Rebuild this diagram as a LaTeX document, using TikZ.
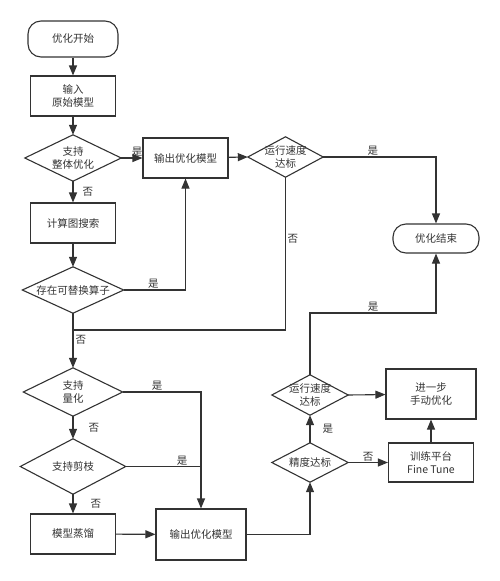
\documentclass[tikz,border=0pt]{standalone}
\usepackage{fontspec}
\setmainfont{Noto Sans CJK SC}
\usetikzlibrary{arrows.meta}
\definecolor{ink}{HTML}{333333}
\tikzset{
  box/.style={draw=ink, line width=1.1pt, rectangle, minimum width=85pt, minimum height=40pt, inner sep=0pt, align=center, text=ink},
  term/.style={box, rounded corners=13pt},
  cond/.style={rectangle, inner sep=0pt, align=center, text=ink},
  line/.style={draw=ink, line width=1.1pt},
  arrow/.style={line, -{Triangle[length=10pt,width=8pt]}},
  lbl/.style={inner sep=1pt, text=ink}
}
\begin{document}
\begin{tikzpicture}[x=1pt, y=-1pt, font=\fontsize{10.5}{13}\selectfont]
    \useasboundingbox (0,0) rectangle (500,581);
    \node[term, minimum width=90pt, minimum height=36pt] (start) at (73,39) {优化开始};
    \node[box] (input) at (73,96) {输入\\原始模型};
    \node[cond, minimum width=96pt, minimum height=46pt] (whole) at (73,158) {支持\\整体优化};
    \node[box] (out1) at (185.5,158) {输出优化模型};
    \node[box] (search) at (73,223) {计算图搜索};
    \node[cond, minimum width=101pt, minimum height=46pt] (replace) at (73,290) {存在可替换算子};
    \node[cond, minimum width=75pt, minimum height=40pt] (speed1) at (285.5,157) {运行速度\\达标};
    \node[term, minimum width=86pt, minimum height=29pt] (finish) at (436,238.5) {优化结束};
    \node[cond, minimum width=99pt, minimum height=48pt] (quant) at (73,392) {支持\\量化};
    \node[cond, minimum width=105pt, minimum height=55pt] (prune) at (73,466.5) {支持剪枝};
    \node[box] (distill) at (73,534) {模型蒸馏};
    \node[box, minimum width=90pt, minimum height=51pt] (out2) at (201,534.5) {输出优化模型};
    \node[cond, minimum width=76pt, minimum height=39pt] (acc) at (310,462.5) {精度达标};
    \node[cond, minimum width=76pt, minimum height=40pt] (speed2) at (310,395) {运行速度\\达标};
    \node[box, minimum width=90pt, minimum height=50pt] (manual) at (431,394) {进一步\\手动优化};
    \node[box, minimum height=39pt] (tune) at (431,462.5) {训练平台\\Fine Tune};
    \foreach \n in {whole,replace,speed1,quant,prune,acc,speed2}
      \draw[line, line join=miter] (\n.north) -- (\n.east) -- (\n.south) -- (\n.west) -- cycle;
    \coordinate (join) at (73,330);
    \draw[arrow] (start) -- (input);
    \draw[arrow] (input) -- (whole.north);
    \draw[arrow] (whole.east) -- node[lbl, above, pos=0.75] {是} (out1);
    \draw[arrow] (whole.south) -- node[lbl, right=8pt] {否} (search);
    \draw[arrow] (search) -- (replace.north);
    \draw[arrow] (replace.east) -| node[lbl, above, pos=0.24] {是} (out1);
    \draw[arrow] (out1) -- (speed1.west);
    \draw[arrow] (speed1.east) -| node[lbl, above, pos=0.22] {是} (finish);
    \draw[line] (speed1.south) -- node[lbl, right=0.5pt, pos=0.4] {否} (speed1.south |- join) -- (join);
    \draw[arrow] (replace.south) -- node[lbl, right=1pt, pos=0.49] {否} (quant.north);
    \draw[arrow] (quant.east) -| node[lbl, above, pos=0.22] {是} (out2);
    \draw[line] (prune.east) -- node[lbl, above, pos=0.75] {是} (out2.north |- prune.east);
    \draw[arrow] (quant.south) -- node[lbl, right=14pt] {否} (prune.north);
    \draw[arrow] (prune.south) -- node[lbl, right=16pt] {否} (distill);
    \draw[arrow] (distill) -- (out2);
    \draw[arrow] (out2.east) -| (acc.south);
    \draw[arrow] (acc.north) -- node[lbl, right=11pt] {是} (speed2.south);
    \draw[arrow] (acc.east) -- node[lbl, above] {否} (tune);
    \draw[arrow] (tune) -- (manual);
    \draw[arrow] (speed2.east) -- (manual);
    \draw[arrow] (speed2.north) |- node[lbl, above, pos=0.75] {是} (436,313) -- (finish);
\end{tikzpicture}
\end{document}
